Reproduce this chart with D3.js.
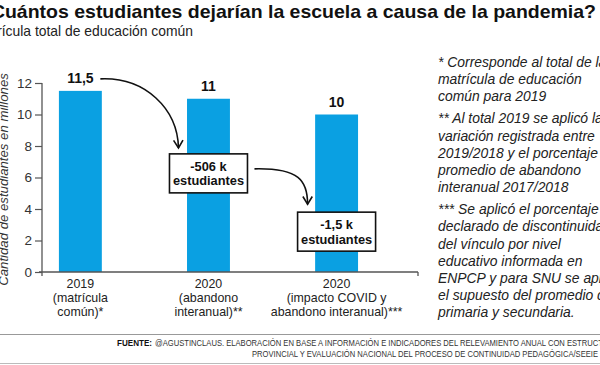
<!DOCTYPE html>
<html>
<head>
<meta charset="utf-8">
<script src="https://cdn.jsdelivr.net/npm/d3@7"></script>
<style>
  html, body { margin: 0; padding: 0; background: #fff; overflow: hidden; }
  svg { display: block; font-family: "Liberation Sans", Arial, sans-serif; }
</style>
</head>
<body>
<svg id="chart" width="600" height="365"></svg>
<script>
// ---------- data ----------
const categories = ["2019 (matrícula común)*", "2020 (abandono interanual)**", "2020 (impacto COVID y abandono interanual)***"];
const categoryLines = [
  ["2019", "(matrícula", "común)*"],
  ["2020", "(abandono", "interanual)**"],
  ["2020", "(impacto COVID y", "abandono interanual)***"]
];
const values = [11.5, 11, 10];
const valueLabels = ["11,5", "11", "10"];
const yTicks = [0, 2, 4, 6, 8, 10, 12];
const changeLabels = [["-506 k", "estudiantes"], ["-1,5 k", "estudiantes"]];
const changeAnchors = [7.5, 3.8]; // value (y-units) of each box top
const titleText = "¿Cuántos estudiantes dejarían la escuela a causa de la pandemia?";
const subtitleText = "Matrícula total de educación común";
const yAxisTitle = "Cantidad de estudiantes en millones";
const notes = [
  ["* Corresponde al total de la", "matrícula de educación", "común para 2019"],
  ["** Al total 2019 se aplicó la", "variación registrada entre", "2019/2018 y el porcentaje", "promedio de abandono", "interanual 2017/2018"],
  ["*** Se aplicó el porcentaje", "declarado de discontinuidad", "del vínculo por nivel", "educativo informada en", "ENPCP y para SNU se aplicó", "el supuesto del promedio de", "primaria y secundaria."]
];
const sourceBold = "FUENTE:";
const sourceLine1 = "@AGUSTINCLAUS. ELABORACIÓN EN BASE A INFORMACIÓN E INDICADORES DEL RELEVAMIENTO ANUAL CON ESTRUCTURA";
const sourceLine2 = "PROVINCIAL Y EVALUACIÓN NACIONAL DEL PROCESO DE CONTINUIDAD PEDAGÓGICA/SEEIE";

// ---------- layout ----------
const svg = d3.select("#chart");
const barColor = "#0aa0e2";
const axisColor = "#555";
const plot = { left: 42, right: 418, top: 83, bottom: 272 };

const x = d3.scaleBand()
  .domain(categories)
  .range([plot.left, plot.right])
  .paddingInner(0.665)
  .paddingOuter(0.3)
  .align(0.22);

const y = d3.scaleLinear().domain([0, 12]).range([plot.bottom, plot.top]);

function fitText(sel, target) {
  sel.attr("textLength", target).attr("lengthAdjust", "spacingAndGlyphs");
}

// title
svg.append("text")
  .attr("x", -21).attr("y", 18)
  .attr("font-size", 19).attr("font-weight", "bold").attr("fill", "#111")
  .text(titleText)
  .call(fitText, 617);

svg.append("text")
  .attr("x", -26).attr("y", 36)
  .attr("font-size", 14.5).attr("fill", "#222")
  .text(subtitleText)
  .call(fitText, 219);

// y axis title
svg.append("text")
  .attr("transform", `translate(8,${(plot.top + plot.bottom) / 2 + 2}) rotate(-90)`)
  .attr("text-anchor", "middle")
  .attr("font-size", 13.2).attr("font-style", "italic").attr("fill", "#333")
  .text(yAxisTitle);

// bars
svg.append("g").selectAll("rect")
  .data(values)
  .join("rect")
  .attr("x", (d, i) => x(categories[i]))
  .attr("width", x.bandwidth())
  .attr("y", d => y(d))
  .attr("height", d => y(0) - y(d))
  .attr("fill", barColor);

// y axis
const yAxis = svg.append("g")
  .attr("transform", `translate(${plot.left},0)`)
  .call(d3.axisLeft(y).tickValues(yTicks).tickSize(7).tickPadding(3).tickFormat(d3.format("d")));
yAxis.select(".domain").remove();
yAxis.selectAll(".tick line").attr("stroke", axisColor).attr("stroke-width", 1.2);
yAxis.selectAll(".tick text").attr("font-size", 13.5).attr("fill", "#333")
  .attr("font-family", "Liberation Sans, Arial, sans-serif");
yAxis.append("line")
  .attr("x1", 0).attr("x2", 0).attr("y1", y(12)).attr("y2", y(0) + 4)
  .attr("stroke", axisColor).attr("stroke-width", 1.3);

// x axis
const xAxis = svg.append("g").attr("transform", `translate(0,${y(0)})`);
xAxis.append("line")
  .attr("x1", plot.left - 3).attr("x2", plot.right).attr("y1", 0).attr("y2", 0)
  .attr("stroke", axisColor).attr("stroke-width", 1.3);
xAxis.append("line")
  .attr("x1", plot.right).attr("x2", plot.right).attr("y1", 0).attr("y2", 4)
  .attr("stroke", axisColor).attr("stroke-width", 1.3);

const xlg = svg.append("g").attr("font-size", 12.4).attr("fill", "#222").attr("text-anchor", "middle");
categoryLines.forEach((lines, i) => {
  const cx = x(categories[i]) + x.bandwidth() / 2;
  lines.forEach((line, j) => {
    xlg.append("text").attr("x", cx).attr("y", y(0) + 15.5 + j * 14).text(line);
  });
});

// value labels
svg.append("g").selectAll("text")
  .data(values)
  .join("text")
  .attr("text-anchor", "middle")
  .attr("font-size", 14).attr("font-weight", "bold").attr("fill", "#111")
  .attr("x", (d, i) => x(categories[i]) + x.bandwidth() / 2)
  .attr("y", d => y(d) - 8)
  .text((d, i) => valueLabels[i]);

// change boxes
const boxW = 78, boxH = 39;
const boxes = changeLabels.map((lines, i) => {
  const cx = x(categories[i + 1]) + x.bandwidth() / 2;
  const top = y(changeAnchors[i]);
  return { lines, cx, top, left: cx - boxW / 2, right: cx + boxW / 2 };
});
const bg = svg.append("g").selectAll("g").data(boxes).join("g");
bg.append("rect")
  .attr("x", d => d.left).attr("y", d => d.top)
  .attr("width", boxW).attr("height", boxH)
  .attr("fill", "#fff").attr("stroke", "#111").attr("stroke-width", 1.6);
boxes.forEach(b => {
  b.lines.forEach((line, j) => {
    svg.append("text")
      .attr("text-anchor", "middle")
      .attr("font-size", 12.8).attr("font-weight", "bold").attr("fill", "#111")
      .attr("x", b.cx).attr("y", b.top + 17 + j * 14.5)
      .text(line);
  });
});

// arrows
function arrow(x0, y0, c1x, c1y, c2x, c2y, x1, y1) {
  const g = svg.append("g").attr("fill", "none").attr("stroke", "#111").attr("stroke-width", 1.6);
  const p = d3.path();
  p.moveTo(x0, y0);
  p.bezierCurveTo(c1x, c1y, c2x, c2y, x1, y1);
  g.append("path").attr("d", p.toString());
  const ang = Math.atan2(y1 - c2y, x1 - c2x);
  const L = 9, spread = 0.55;
  const h = d3.path();
  h.moveTo(x1 - L * Math.cos(ang - spread), y1 - L * Math.sin(ang - spread));
  h.lineTo(x1, y1);
  h.lineTo(x1 - L * Math.cos(ang + spread), y1 - L * Math.sin(ang + spread));
  g.append("path").attr("d", h.toString()).attr("stroke-linejoin", "miter");
}
{
  const lx = x(categories[0]) + x.bandwidth() / 2 + 20;
  const ly = y(values[0]) - 12;
  const ex = boxes[0].left + 9, ey = boxes[0].top - 6;
  arrow(lx, ly, lx + 45, ly - 2, ex - 1, ly + 30, ex, ey);
  const sx = boxes[0].right + 7, sy = boxes[0].top + 15;
  const fx = boxes[1].left + 10, fy = boxes[1].top - 8;
  arrow(sx, sy, sx + 45, sy - 1, fx, sy + 12, fx, fy);
}

// notes
let ny = 67;
const ng = svg.append("g").attr("font-size", 13.9).attr("font-style", "italic").attr("fill", "#222");
notes.forEach((block) => {
  block.forEach((line) => {
    ng.append("text").attr("x", 438).attr("y", ny).text(line);
    ny += 17.2;
  });
  ny += 4.8;
});

// footer
svg.append("line").attr("x1", 0).attr("x2", 600).attr("y1", 334.5).attr("y2", 334.5)
  .attr("stroke", "#999").attr("stroke-width", 1);
svg.append("line").attr("x1", 0).attr("x2", 600).attr("y1", 363.5).attr("y2", 363.5)
  .attr("stroke", "#bbb").attr("stroke-width", 1);
svg.append("text").attr("x", 117).attr("y", 346).attr("font-size", 8.6)
  .attr("font-weight", "bold").attr("fill", "#111")
  .text(sourceBold).call(fitText, 35);
svg.append("text").attr("x", 155).attr("y", 346).attr("font-size", 8.6).attr("fill", "#333")
  .text(sourceLine1).call(fitText, 464);
svg.append("text").attr("x", 252).attr("y", 356.5).attr("font-size", 8.6).attr("fill", "#333")
  .text(sourceLine2).call(fitText, 346);
</script>
</body>
</html>
